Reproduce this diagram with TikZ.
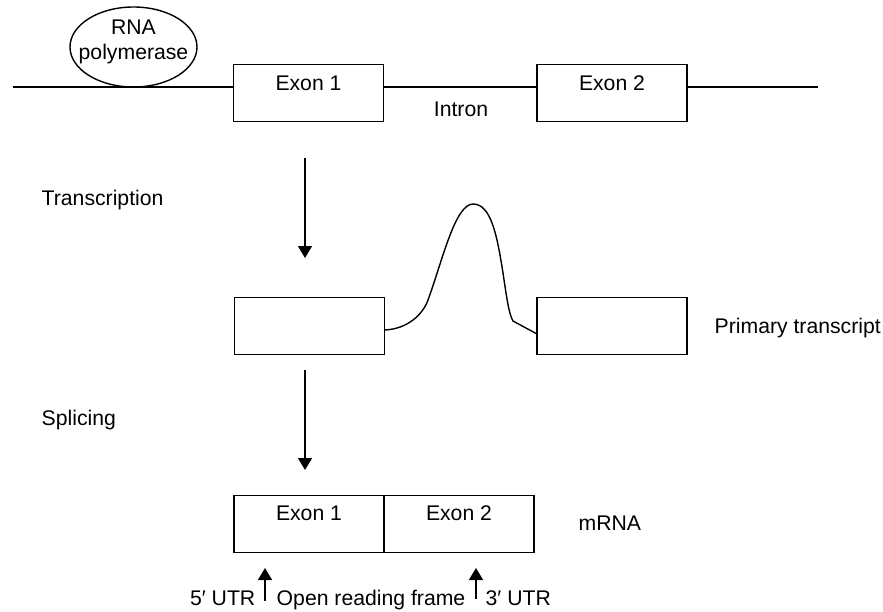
\documentclass[tikz,border=0pt]{standalone}
\usepackage{fontspec}
\setmainfont{Liberation Sans}
\usetikzlibrary{arrows.meta,shapes.geometric,positioning,calc}

\tikzset{
  exon/.style={draw, minimum width=75pt, minimum height=28.5pt, inner sep=0pt, outer sep=0pt},
  txt/.style={inner sep=0pt, font=\fontsize{10.6}{12.5}\selectfont},
  flow/.style={-{Triangle[width=7pt,length=6pt]}}
}

\begin{document}
\begin{tikzpicture}[x=0.5pt,y=-0.5pt,line width=0.7pt]
        \useasboundingbox (0,0) rectangle (883,611);
        % gene
        \coordinate (dnaL) at (13,87);
        \coordinate (dnaR) at (818,87);
        \node[exon] (e1) at (308.5,93) {};
        \node[exon] (e2) at (612,93) {};
        \draw (dnaL) -- (e1.west |- dnaL);
        \draw (e1.east |- dnaL) -- (e2.west |- dnaL);
        \draw (e2.east |- dnaL) -- (dnaR);
        \node[ellipse, draw, minimum width=63.5pt, minimum height=40pt, inner sep=0pt] (pol) at (133.5,47) {};
        \node[txt, align=center] (polt) at (133.5,42) {RNA\\polymerase};
        \node[txt, anchor=base] (e1t) at (308.5,90) {Exon 1};
        \node[txt, anchor=base] (e2t) at (612,90) {Exon 2};
        \node[txt, anchor=base] (intron) at (461,116) {Intron};
        % transcription
        \coordinate (a1s) at (305,158);
        \coordinate (a1e) at (305,258);
        \draw[flow] (a1s) -- (a1e);
        \node[txt, anchor=base west] (trans) at (41,205) {Transcription};
        \node[exon] (p1) at (309.5,326) {};
        \node[exon] (p2) at (612,326) {};
        \draw (p1.east) ++(0,4) .. controls (408,329) and (423,314) .. (428,300)
              .. controls (442,262) and (455,204) .. (473,204)
              .. controls (491,204) and (497,235) .. (503,273)
              .. controls (507,300) and (509,314) .. (513,321)
              -- ($(p2.west)+(0,8)$);
        \node[txt, anchor=base west] (prim) at (714,333) {Primary transcript};
        % splicing
        \coordinate (a2s) at (305,370);
        \coordinate (a2e) at (305,470);
        \draw[flow] (a2s) -- (a2e);
        \node[txt, anchor=base west] (splice) at (41,425) {Splicing};
        \node[exon] (m1) at (309,524) {};
        \node[exon, right=0pt of m1] (m2) {};
        \node[txt, anchor=base] (m1t) at (m1.center |- 0,520) {Exon 1};
        \node[txt, anchor=base] (m2t) at (m2.center |- 0,520) {Exon 2};
        \node[txt, anchor=base west] (mrna) at (578,530) {mRNA};
        % reading frame
        \coordinate (u1s) at (265,601);
        \coordinate (u1e) at (265,568);
        \coordinate (u2s) at (476,599);
        \coordinate (u2e) at (476,568);
        \draw[flow] (u1s) -- (u1e);
        \draw[flow] (u2s) -- (u2e);
        \node[txt, anchor=base east] (utr5) at (256,605) {5′ UTR};
        \node[txt, anchor=base] (orf) at (371,605) {Open reading frame};
        \node[txt, anchor=base west] (utr3) at (485,605) {3′ UTR};
\end{tikzpicture}
\end{document}
